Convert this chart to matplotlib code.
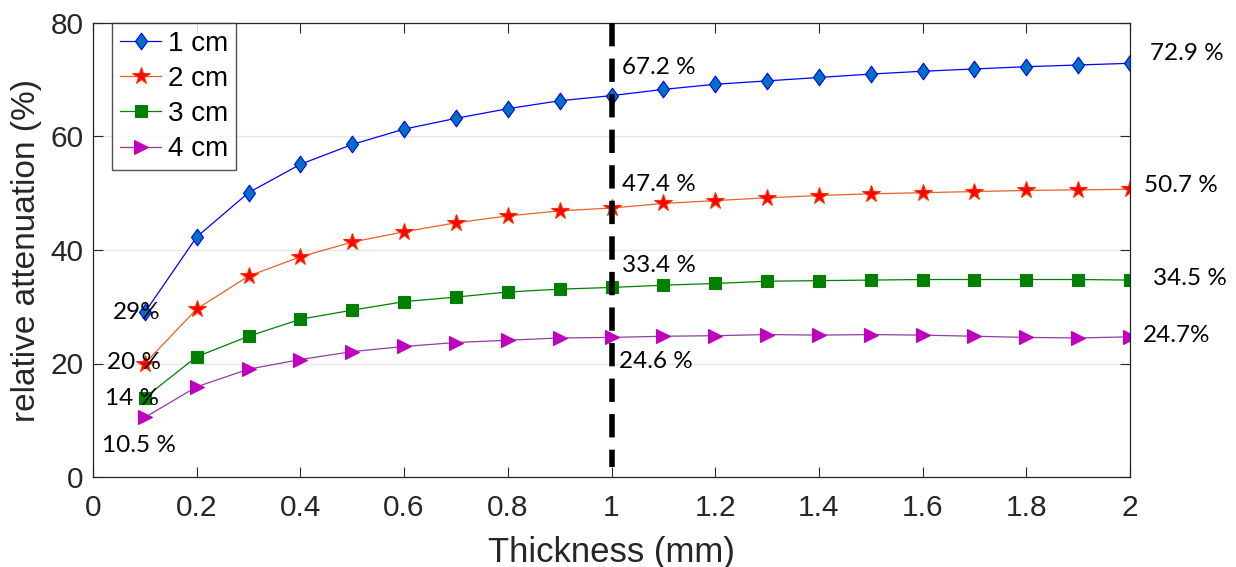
import matplotlib
matplotlib.use("Agg")
import matplotlib.pyplot as plt
from matplotlib.path import Path
import numpy as np

thickness = [0.1, 0.2, 0.3, 0.4, 0.5, 0.6, 0.7, 0.8, 0.9, 1.0,
             1.1, 1.2, 1.3, 1.4, 1.5, 1.6, 1.7, 1.8, 1.9, 2.0]
att_1cm = [29.0, 42.3, 50.1, 55.1, 58.6, 61.3, 63.2, 64.9, 66.3, 67.2,
           68.3, 69.2, 69.8, 70.4, 71.0, 71.5, 71.9, 72.3, 72.6, 72.9]
att_2cm = [20.0, 29.6, 35.4, 38.8, 41.4, 43.2, 44.8, 46.0, 46.9, 47.4,
           48.2, 48.7, 49.2, 49.6, 49.9, 50.1, 50.3, 50.5, 50.6, 50.7]
att_3cm = [14.0, 21.2, 24.8, 27.8, 29.4, 30.9, 31.7, 32.6, 33.1, 33.4,
           33.8, 34.1, 34.5, 34.6, 34.7, 34.8, 34.8, 34.8, 34.8, 34.7]
att_4cm = [10.5, 15.9, 19.0, 20.7, 22.1, 23.0, 23.7, 24.1, 24.5, 24.6,
           24.8, 24.9, 25.1, 25.0, 25.1, 25.0, 24.8, 24.6, 24.5, 24.7]
series_labels = ["1 cm", "2 cm", "3 cm", "4 cm"]

annotations = [
    ("67.2 %", 1.02, 72.1), ("47.4 %", 1.02, 51.5), ("33.4 %", 1.02, 37.2),
    ("24.6 %", 1.015, 20.3), ("72.9 %", 2.039, 74.7), ("50.7 %", 2.027, 51.3),
    ("34.5 %", 2.044, 35.0), ("24.7%", 2.025, 25.0), ("29%", 0.039, 29.0),
    ("20 %", 0.027, 20.2), ("14 %", 0.023, 13.9), ("10.5 %", 0.017, 5.5),
]
xticks = [0, 0.2, 0.4, 0.6, 0.8, 1, 1.2, 1.4, 1.6, 1.8, 2]
xticklabels = ["0", "0.2", "0.4", "0.6", "0.8", "1", "1.2", "1.4", "1.6", "1.8", "2"]
yticks = [0, 20, 40, 60, 80]

plt.rcParams['font.family'] = ['Liberation Sans', 'DejaVu Sans']

fig = plt.figure(figsize=(12.36, 5.67), dpi=100)
ax = fig.add_axes([93/1236, 1 - 477/567, (1130-93)/1236, (477-23)/567])

diamond = Path([(0, 1), (0.72, 0), (0, -1), (-0.72, 0), (0, 1)],
               [Path.MOVETO, Path.LINETO, Path.LINETO, Path.LINETO, Path.CLOSEPOLY])

styles = [
    dict(color="#0000FF", marker=diamond, mfc="#0072BD", mec="#0000FF", ms=12),
    dict(color="#E8602C", marker="*", mfc="#FF0000", mec="#FF3000", ms=13),
    dict(color="#008000", marker="s", mfc="#008000", mec="#008000", ms=8.5),
    dict(color="#8E3FA0", marker=">", mfc="#BF00BF", mec="#BF00BF", ms=10.5),
]
for vals, lab, st in zip([att_1cm, att_2cm, att_3cm, att_4cm], series_labels, styles):
    ax.plot(thickness, vals, lw=0.9, label=lab, mew=0.8, **st)

ln, = ax.plot([1, 1], [80, 1.8], color="black", lw=4, zorder=5)
ln.set_dashes((4.2, 2.2))

ax.set_xlim(0, 2)
ax.set_ylim(0, 80)
ax.set_xticks(xticks)
ax.set_xticklabels(xticklabels)
ax.set_yticks(yticks)
ax.yaxis.grid(True, color="#E6E6E6", lw=1)
ax.set_axisbelow(True)
ax.tick_params(direction="in", top=True, right=True, length=7, width=0.8,
               labelsize=21.5, colors="#262626")
ax.tick_params(axis="x", pad=12)
ax.tick_params(axis="y", pad=7)
for s in ax.spines.values():
    s.set_color("#262626")
    s.set_linewidth(0.9)
ax.set_xlabel("Thickness (mm)", fontsize=25, color="#262626", labelpad=10)
ax.set_ylabel("relative attenuation (%)", fontsize=24, color="#262626", labelpad=6)

for txt, x, y in annotations:
    ax.text(x, y, txt, fontsize=17.5, family=["Lato", "DejaVu Sans"], va="center",
            ha="left", color="black", clip_on=False, zorder=6)

leg = ax.legend(loc="upper left", bbox_to_anchor=(19/1037, 1.0), fontsize=20,
                frameon=True, fancybox=False, borderpad=0.28, labelspacing=0.33,
                handlelength=1.5, handletextpad=0.25, borderaxespad=0)
leg.get_frame().set_edgecolor("#262626")
leg.get_frame().set_linewidth(1.0)

fig.savefig("out.png", dpi=100)
